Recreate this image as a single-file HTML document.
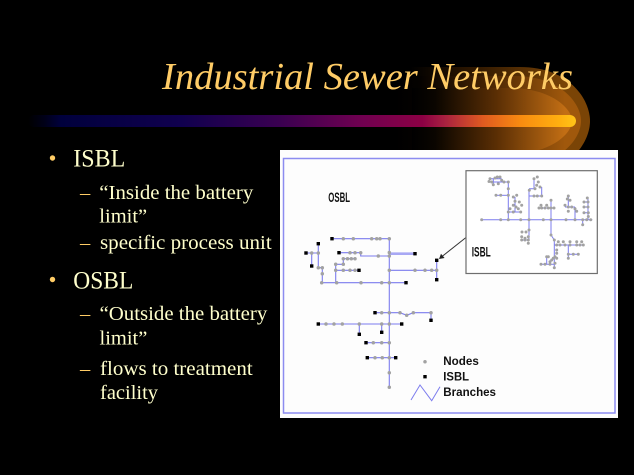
<!DOCTYPE html>
<html>
<head>
<meta charset="utf-8">
<style>
  html,body{margin:0;padding:0;background:#000;}
  body{width:634px;height:475px;overflow:hidden;}
  svg{display:block;}
</style>
</head>
<body>
<svg width="634" height="475" viewBox="0 0 634 475" xmlns="http://www.w3.org/2000/svg">
  <defs>
    <linearGradient id="gl1" gradientUnits="userSpaceOnUse" x1="383" y1="0" x2="565" y2="0">
      <stop offset="0" stop-color="#000"/>
      <stop offset="0.15" stop-color="#000"/>
      <stop offset="0.5" stop-color="#2e1700"/>
      <stop offset="1" stop-color="#7a4406"/>
    </linearGradient>
    <linearGradient id="gl2" gradientUnits="userSpaceOnUse" x1="395" y1="0" x2="565" y2="0">
      <stop offset="0" stop-color="#000"/>
      <stop offset="0.15" stop-color="#050200"/>
      <stop offset="0.5" stop-color="#3e1f02"/>
      <stop offset="1" stop-color="#a0580c"/>
    </linearGradient>
    <linearGradient id="gl3" gradientUnits="userSpaceOnUse" x1="412" y1="0" x2="565" y2="0">
      <stop offset="0" stop-color="#000"/>
      <stop offset="0.15" stop-color="#0a0500"/>
      <stop offset="0.55" stop-color="#5a2e04"/>
      <stop offset="1" stop-color="#c26e14"/>
    </linearGradient>
    <linearGradient id="bar" gradientUnits="userSpaceOnUse" x1="28" y1="0" x2="576" y2="0">
      <stop offset="0" stop-color="#000000"/>
      <stop offset="0.03" stop-color="#000018"/>
      <stop offset="0.06" stop-color="#00003c"/>
      <stop offset="0.28" stop-color="#10004e"/>
      <stop offset="0.46" stop-color="#3a0050"/>
      <stop offset="0.61" stop-color="#700050"/>
      <stop offset="0.72" stop-color="#8c0044"/>
      <stop offset="0.76" stop-color="#a82040"/>
      <stop offset="0.83" stop-color="#e05a20"/>
      <stop offset="0.9" stop-color="#f88c10"/>
      <stop offset="0.97" stop-color="#ffb010"/>
      <stop offset="1" stop-color="#ffc418"/>
    </linearGradient>
    <circle id="n" r="1.75" fill="#a2a2a2"/>
    <circle id="m" r="1.5" fill="#a2a2a2"/>
    <rect id="b" x="-1.7" y="-1.7" width="3.4" height="3.4" fill="#000"/>
  </defs>

  <!-- glow -->
  <path d="M383 67 L520 67 C570 67 590 100 590 121 C590 142 570 175 520 175 L383 175 Z" fill="url(#gl1)"/>
  <path d="M395 76 L515 76 C560 76 581 103 581 121 C581 139 560 166 515 166 L395 166 Z" fill="url(#gl2)"/>
  <path d="M412 88 L510 88 C550 88 572 108 572 121 C572 134 550 154 510 154 L412 154 Z" fill="url(#gl3)"/>

  <!-- bar -->
  <rect x="28" y="115" width="548" height="12" rx="6" ry="6" fill="url(#bar)"/>

  <!-- title -->
  <text x="162" y="89" font-family="Liberation Serif, serif" font-style="italic" font-size="38" fill="#ffcc66" textLength="411" lengthAdjust="spacingAndGlyphs">Industrial Sewer Networks</text>

  <!-- bullets -->
  <g font-family="Liberation Serif, serif" fill="#ffffcc">
    <circle cx="52.5" cy="158" r="2.7" fill="#ffcc66"/>
    <text x="73.3" y="166.5" font-size="25" textLength="52" lengthAdjust="spacingAndGlyphs">ISBL</text>
    <text x="80" y="199" font-size="20.5" fill="#ffcc66">–</text>
    <text x="99.3" y="199" font-size="20.5" textLength="154" lengthAdjust="spacingAndGlyphs">“Inside the battery</text>
    <text x="99.3" y="222.5" font-size="20.5">limit”</text>
    <text x="80" y="249" font-size="20.5" fill="#ffcc66">–</text>
    <text x="100" y="249" font-size="20.5" textLength="171.7" lengthAdjust="spacingAndGlyphs">specific process unit</text>

    <circle cx="52.5" cy="279.5" r="2.7" fill="#ffcc66"/>
    <text x="73.3" y="288.5" font-size="25" textLength="60" lengthAdjust="spacingAndGlyphs">OSBL</text>
    <text x="80" y="320" font-size="20.5" fill="#ffcc66">–</text>
    <text x="99.5" y="320" font-size="20.5" textLength="167.8" lengthAdjust="spacingAndGlyphs">“Outside the battery</text>
    <text x="99.5" y="344.5" font-size="20.5">limit”</text>
    <text x="80" y="375" font-size="20.5" fill="#ffcc66">–</text>
    <text x="100" y="375" font-size="20.5" textLength="152.7" lengthAdjust="spacingAndGlyphs">flows to treatment</text>
    <text x="100" y="399" font-size="20.5">facility</text>
  </g>

  <!-- diagram panel -->
  <rect x="280" y="150" width="338" height="268" fill="#fdfdfd"/>
  <rect x="283.5" y="158.5" width="331.5" height="254.5" fill="none" stroke="#8c8cf0" stroke-width="1.5"/>

  <!-- OSBL label -->
  <text x="328.3" y="202" font-family="Liberation Sans, sans-serif" font-weight="bold" font-size="14" fill="#111" textLength="21.7" lengthAdjust="spacingAndGlyphs">OSBL</text>

  <!-- OSBL network lines -->
  <path d="M389.3 253.7 H415" stroke="#a8a8f4" stroke-width="2.6" fill="none"/>
  <g stroke="#7c7cee" stroke-width="1.1" fill="none">
    <path d="M389.3 238.7 V387.7"/>
    <path d="M332 238.7 H389.3"/>
    <path d="M339 252.7 H360.7 V256 H389.3"/>
    <path d="M343.3 258.7 H355 M343.3 258.7 V264.3 H335.7 V282.7"/>
    <path d="M335.7 270.3 H359"/>
    <path d="M321.7 282.7 H406"/>
    <path d="M318.3 243.7 V267.7 H322.3 V282.7"/>
    <path d="M306 253 H318.3 M311.7 253 V266"/>
    <path d="M389.3 270.3 H436.7 M436.7 260.3 V279.7"/>
    <path d="M375 312.7 H400 L406.7 315.3 L413.3 312.7 H431 V320.3"/>
    <path d="M318.3 324 H401.7 M359.3 324 V334.3 M381.7 324 V332.3"/>
    <path d="M366 342.7 H389.3"/>
    <path d="M367.3 357.7 H395.7"/>
  </g>

  <!-- OSBL gray nodes -->
  <g>
    <use href="#n" x="343.3" y="238.7"/><use href="#n" x="353.3" y="238.7"/><use href="#n" x="371.7" y="238.7"/><use href="#n" x="376.7" y="238.7"/><use href="#n" x="380" y="238.7"/><use href="#n" x="389.3" y="238.7"/>
    <use href="#n" x="350" y="252.7"/><use href="#n" x="355" y="252.7"/><use href="#n" x="360.7" y="252.7"/>
    <use href="#n" x="378.3" y="256"/><use href="#n" x="389.3" y="256"/><use href="#n" x="389.3" y="252.5"/>
    <use href="#n" x="343.3" y="258.7"/><use href="#n" x="347.5" y="258.7"/><use href="#n" x="351.3" y="258.7"/><use href="#n" x="355" y="258.7"/>
    <use href="#n" x="335.7" y="264.3"/><use href="#n" x="343.3" y="264.3"/>
    <use href="#n" x="335.7" y="270.3"/><use href="#n" x="343.3" y="270.3"/><use href="#n" x="350" y="270.3"/><use href="#n" x="355" y="270.3"/>
    <use href="#n" x="389.3" y="270.3"/><use href="#n" x="415" y="270.3"/><use href="#n" x="425" y="270.3"/><use href="#n" x="431.7" y="270.3"/><use href="#n" x="436.7" y="270.3"/>
    <use href="#n" x="321.7" y="282.7"/><use href="#n" x="336.7" y="282.7"/><use href="#n" x="361" y="282.7"/><use href="#n" x="381.7" y="282.7"/><use href="#n" x="389.3" y="282.7"/>
    <use href="#n" x="311.7" y="253"/><use href="#n" x="318.3" y="253"/><use href="#n" x="318.3" y="267.7"/><use href="#n" x="322.3" y="267.7"/><use href="#n" x="322.3" y="273.7"/>
    <use href="#n" x="381.7" y="312.7"/><use href="#n" x="389.3" y="312.7"/><use href="#n" x="400" y="312.7"/><use href="#n" x="406.7" y="315.3"/><use href="#n" x="413.3" y="312.7"/><use href="#n" x="431" y="312.7"/>
    <use href="#n" x="326" y="324"/><use href="#n" x="334" y="324"/><use href="#n" x="342.3" y="324"/><use href="#n" x="359.3" y="324"/><use href="#n" x="381.7" y="324"/><use href="#n" x="389.3" y="324"/>
    <use href="#n" x="373.3" y="342.7"/><use href="#n" x="381.7" y="342.7"/><use href="#n" x="389.3" y="342.7"/>
    <use href="#n" x="375" y="357.7"/><use href="#n" x="382.3" y="357.7"/><use href="#n" x="389.3" y="357.7"/>
    <use href="#n" x="389.3" y="372.7"/><use href="#n" x="389.3" y="387.3"/>
  </g>
  <!-- OSBL black (ISBL) nodes -->
  <g>
    <use href="#b" x="332" y="238.7"/><use href="#b" x="339" y="252.7"/><use href="#b" x="415" y="253.7"/><use href="#b" x="359" y="270.3"/><use href="#b" x="406" y="282.7"/>
    <use href="#b" x="318.3" y="243.7"/><use href="#b" x="306" y="253"/><use href="#b" x="311.7" y="266"/>
    <use href="#b" x="436.7" y="260.3"/><use href="#b" x="436.7" y="279.7"/>
    <use href="#b" x="375" y="312.7"/><use href="#b" x="431" y="320.3"/>
    <use href="#b" x="318.3" y="324"/><use href="#b" x="401.7" y="324"/><use href="#b" x="359.3" y="334.3"/><use href="#b" x="381.7" y="332.3"/>
    <use href="#b" x="366" y="342.7"/><use href="#b" x="367.3" y="357.7"/><use href="#b" x="395.7" y="357.7"/>
  </g>

  <!-- arrow to inset -->
  <line x1="466" y1="237.5" x2="442" y2="256.5" stroke="#333" stroke-width="1"/>
  <polygon points="439,259 441,253.8 444.6,258" fill="#222"/>

  <!-- ISBL inset -->
  <rect x="466" y="170.7" width="131.3" height="102.8" fill="#fff" stroke="#6e6e6e" stroke-width="1.2"/>
  <text x="471.7" y="256.5" font-family="Liberation Sans, sans-serif" font-weight="bold" font-size="14" fill="#111" textLength="19" lengthAdjust="spacingAndGlyphs">ISBL</text>

  <g stroke="#7c7cee" stroke-width="1" fill="none">
    <path d="M481.7 219.7 H592.3"/>
    <path d="M582.7 219.7 V224.7"/>
    <path d="M508.3 182 V219.7"/>
    <path d="M496 195.3 H508.3"/>
    <path d="M493 182 H508.3 M490 178.7 H501.7 M493.3 178.7 V184.7"/>
    <path d="M508.3 212 H520.7 M515 197 V212"/>
    <path d="M529 190.3 V239.7"/>
    <path d="M529 196 H541.7 M541.7 187 V196"/>
    <path d="M534 178.7 V188.7 H529"/>
    <path d="M551 200.3 V235 L554.3 240 V268.3"/>
    <path d="M539 208 H554"/>
    <path d="M554.3 245 H583.3"/>
    <path d="M568.3 245 V258.3 M568.3 254.3 H578.3"/>
    <path d="M541 264.3 H554.3 M546.7 256.7 V264.3"/>
    <path d="M575 207 V219.7 M568.3 196 V207 M565 207 H575"/>
    <path d="M588 197 V219.7 M584 202 H588 M584 207 H588 M584 212.7 H588"/>
    <path d="M521.7 240 H528.3"/>
  </g>
  <g>
    <use href="#m" x="481.7" y="219.7"/><use href="#m" x="500.7" y="219.7"/><use href="#m" x="508.3" y="219.7"/><use href="#m" x="520.7" y="219.7"/><use href="#m" x="529" y="219.7"/><use href="#m" x="543.3" y="219.7"/><use href="#m" x="551" y="219.7"/><use href="#m" x="566" y="219.7"/><use href="#m" x="575" y="219.7"/><use href="#m" x="582.7" y="219.7"/><use href="#m" x="586.7" y="219.7"/><use href="#m" x="590.7" y="219.7"/><use href="#m" x="582.7" y="224.7"/>
    <use href="#m" x="508.3" y="182"/><use href="#m" x="508.3" y="188.7"/><use href="#m" x="508.3" y="195.3"/><use href="#m" x="496" y="195.3"/><use href="#m" x="500.7" y="195.3"/>
    <use href="#m" x="490" y="178.7"/><use href="#m" x="491.7" y="182"/><use href="#m" x="495" y="178"/><use href="#m" x="497.3" y="177"/><use href="#m" x="500" y="177"/><use href="#m" x="501.7" y="180.3"/><use href="#m" x="498.3" y="183.7"/><use href="#m" x="493.3" y="184.7"/><use href="#m" x="504" y="182"/><use href="#m" x="489" y="181.5"/>
    <use href="#m" x="513.3" y="197"/><use href="#m" x="516.7" y="195.3"/><use href="#m" x="515" y="201.3"/><use href="#m" x="519.3" y="202"/><use href="#m" x="521.7" y="205.3"/><use href="#m" x="513.3" y="205.3"/><use href="#m" x="510" y="208.7"/><use href="#m" x="516" y="207"/><use href="#m" x="518.3" y="208.7"/><use href="#m" x="513.3" y="212"/><use href="#m" x="508.3" y="212"/><use href="#m" x="520.7" y="212"/>
    <use href="#m" x="534" y="196"/><use href="#m" x="537.3" y="196"/><use href="#m" x="541.7" y="196"/>
    <use href="#m" x="534" y="178.7"/><use href="#m" x="537.3" y="177"/><use href="#m" x="538.3" y="182"/><use href="#m" x="536.7" y="185.3"/><use href="#m" x="540" y="187"/><use href="#m" x="535" y="188.7"/><use href="#m" x="529.3" y="190.3"/>
    <use href="#m" x="521.7" y="236.7"/><use href="#m" x="525" y="238.3"/><use href="#m" x="528.3" y="236.7"/><use href="#m" x="521.7" y="240"/><use href="#m" x="525" y="240"/><use href="#m" x="528.3" y="240"/><use href="#m" x="528.3" y="243.3"/><use href="#m" x="522" y="232"/><use href="#m" x="526" y="232"/><use href="#m" x="529" y="230"/>
    <use href="#m" x="551" y="200.3"/>
    <use href="#m" x="539" y="208"/><use href="#m" x="541.7" y="208"/><use href="#m" x="545" y="208"/><use href="#m" x="548.3" y="208"/><use href="#m" x="551" y="208"/><use href="#m" x="554" y="208"/><use href="#m" x="541" y="205.3"/><use href="#m" x="546.7" y="205.3"/>
    <use href="#m" x="551" y="235"/><use href="#m" x="554.3" y="240"/>
    <use href="#m" x="556.7" y="245"/><use href="#m" x="560" y="245"/><use href="#m" x="565" y="245"/><use href="#m" x="570" y="245"/><use href="#m" x="576.7" y="245"/><use href="#m" x="580" y="245"/><use href="#m" x="583.3" y="245"/>
    <use href="#m" x="558.3" y="241.7"/><use href="#m" x="563.3" y="241.7"/><use href="#m" x="570" y="241.7"/><use href="#m" x="576.7" y="241.7"/><use href="#m" x="581.7" y="241.7"/>
    <use href="#m" x="568.3" y="254.3"/><use href="#m" x="573.3" y="254.3"/><use href="#m" x="578.3" y="254.3"/><use href="#m" x="568.3" y="258.3"/>
    <use href="#m" x="556.7" y="250"/><use href="#m" x="556.7" y="253.3"/><use href="#m" x="555" y="256.7"/><use href="#m" x="553.3" y="258.3"/><use href="#m" x="556.7" y="258.3"/><use href="#m" x="551.7" y="260"/><use href="#m" x="548.3" y="256.7"/><use href="#m" x="550" y="261.7"/><use href="#m" x="555" y="263.3"/><use href="#m" x="554.3" y="267.7"/>
    <use href="#m" x="541" y="264.3"/><use href="#m" x="545" y="264.3"/><use href="#m" x="550" y="264.3"/><use href="#m" x="546.7" y="256.7"/>
    <use href="#m" x="568.3" y="196"/><use href="#m" x="567.3" y="199"/><use href="#m" x="570" y="200.3"/><use href="#m" x="565" y="205.3"/><use href="#m" x="568.3" y="207"/><use href="#m" x="571.7" y="207"/><use href="#m" x="575" y="208.7"/><use href="#m" x="576.7" y="211.3"/><use href="#m" x="568.3" y="211.3"/>
    <use href="#m" x="587.3" y="198"/><use href="#m" x="584" y="202"/><use href="#m" x="588" y="202"/><use href="#m" x="584" y="207"/><use href="#m" x="588" y="207"/><use href="#m" x="584" y="212.7"/><use href="#m" x="588.3" y="212.7"/><use href="#m" x="588.3" y="216.5"/>
  </g>

  <!-- legend -->
  <use href="#n" x="425" y="361.7"/>
  <use href="#b" x="425" y="376.7"/>
  <polyline points="411,400 420,385 431.7,400.7 440,386.7" fill="none" stroke="#7c7cee" stroke-width="1"/>
  <g font-family="Liberation Sans, sans-serif" font-weight="bold" font-size="11.5" fill="#111">
    <text x="443.3" y="365" textLength="35.5" lengthAdjust="spacingAndGlyphs">Nodes</text>
    <text x="443.3" y="380.7" textLength="25.7" lengthAdjust="spacingAndGlyphs">ISBL</text>
    <text x="443.3" y="396" textLength="52.7" lengthAdjust="spacingAndGlyphs">Branches</text>
  </g>
</svg>
</body>
</html>
